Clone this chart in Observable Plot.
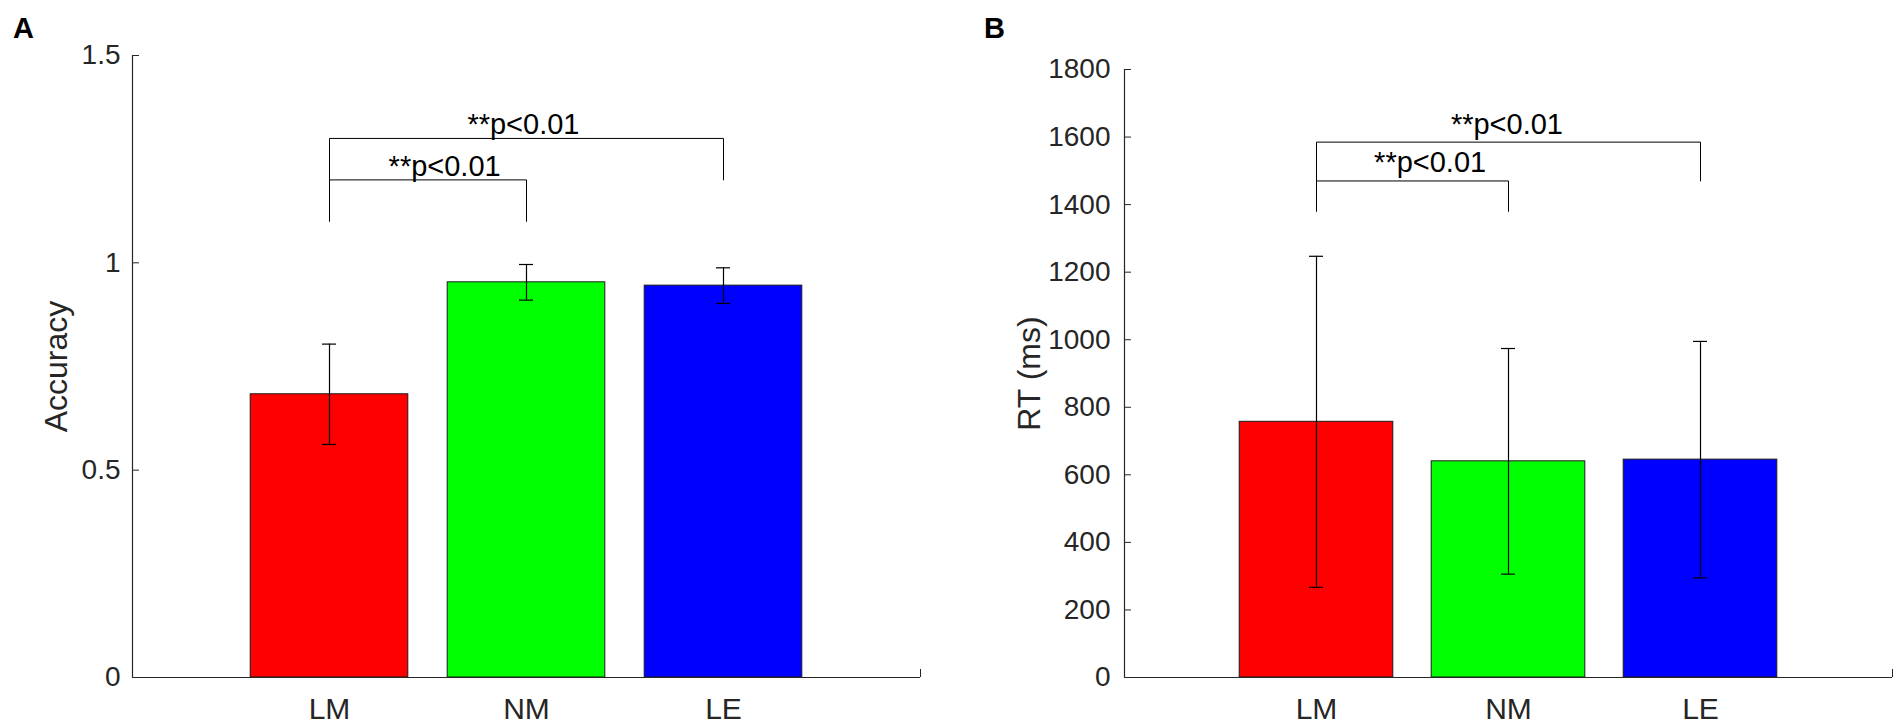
<!DOCTYPE html>
<html>
<head>
<meta charset="utf-8">
<script src="https://cdn.jsdelivr.net/npm/d3@7"></script>
<script src="https://cdn.jsdelivr.net/npm/@observablehq/plot@0.6"></script>
<style>
  html, body { margin: 0; padding: 0; background: #fff; }
  #fig { position: relative; width: 1904px; height: 725px; background: #fff; overflow: hidden; }
  .panel { position: absolute; top: 0; }
  .letter { position: absolute; font-family: "Liberation Sans", Arial, sans-serif; font-weight: bold; font-size: 29px; line-height: 29px; color: #000; }
</style>
</head>
<body>
<div id="fig"></div>
<script>
// ---------- data ----------
const categories = ["LM", "NM", "LE"];
const barColors = ["#ff0000", "#00ff00", "#0000ff"];

const accMean = [0.683, 0.953, 0.945];
const accSD   = [0.121, 0.043, 0.043];
const accTicks = [0, 0.5, 1, 1.5];

const rtMean = [757, 640, 645];
const rtSD   = [490, 334, 350];
const rtTicks = [0, 200, 400, 600, 800, 1000, 1200, 1400, 1600, 1800];

// significance brackets (category positions 1..3)
const bracketFrom = [1, 1];
const bracketTo   = [2, 3];
const pLabels     = ["**p<0.01", "**p<0.01"];
const pLabelX     = [1.3, 1.7];
const accBracketLow  = [1.1, 1.2];
const accBracketHigh = [1.2, 1.3];
const accLabelY      = [1.21, 1.31];
const rtBracketLow   = [1380, 1470];
const rtBracketHigh  = [1470, 1585];
const rtLabelY       = [1496, 1610];

// ---------- drawing ----------
const FONT = "Liberation Sans, Arial, Helvetica, sans-serif";
const AX = "#262626";

function panel({means, sds, yMax, yTicks, bLow, bHigh, bLabelY, yLabel,
                marginLeft, marginRight, marginTop, tickPad, labelDx}) {
  const W = 952, H = 725, marginBottom = 48;
  const bars = categories.map((c, i) => ({
    pos: i + 1, mean: means[i], lo: means[i] - sds[i], hi: means[i] + sds[i], color: barColors[i]
  }));
  const bracketPts = [];
  bracketFrom.forEach((f, k) => {
    const t = bracketTo[k];
    bracketPts.push({k, x: f, y: bLow[k]}, {k, x: f, y: bHigh[k]},
                    {k, x: t, y: bHigh[k]}, {k, x: t, y: bLow[k]});
  });
  const labels = pLabels.map((s, k) => ({text: s, x: pLabelX[k], y: bLabelY[k]}));

  return Plot.plot({
    width: W, height: H,
    marginLeft, marginRight, marginTop, marginBottom,
    style: {fontFamily: FONT, background: "transparent", overflow: "visible", color: AX},
    x: {domain: [0, 4]},
    y: {domain: [0, yMax]},
    color: {type: "identity"},
    marks: [
      // axes
      Plot.axisY({ticks: yTicks, tickSize: 0, tickPadding: tickPad, tickFormat: d => String(d),
                  fontSize: 28, fill: AX, label: null}),
      Plot.axisX({ticks: [1, 2, 3], tickSize: 0, tickPadding: 20, tickFormat: d => categories[d - 1],
                  fontSize: 30, fill: AX, label: null}),
      Plot.ruleY(yTicks, {y: d => d, x1: 0, x2: 0, insetRight: -7, stroke: AX, strokeWidth: 1}),
      Plot.ruleX([4], {x: d => d, y1: 0, y2: 0, insetBottom: 8, stroke: AX, strokeWidth: 1}),
      // bars
      Plot.rect(bars, {x1: d => d.pos - 0.4, x2: d => d.pos + 0.4, y1: 0, y2: "mean",
                       fill: "color", stroke: "#1a1a1a", strokeWidth: 1}),
      Plot.ruleX([0], {stroke: AX, strokeWidth: 1.2}),
      Plot.ruleY([0], {stroke: AX, strokeWidth: 1.2}),
      // error bars
      Plot.ruleX(bars, {x: "pos", y1: "lo", y2: "hi", stroke: "#000", strokeWidth: 1.2}),
      Plot.ruleY(bars, {y: "hi", x1: "pos", x2: "pos", insetLeft: -7, insetRight: -7, stroke: "#000", strokeWidth: 1.2}),
      Plot.ruleY(bars, {y: "lo", x1: "pos", x2: "pos", insetLeft: -7, insetRight: -7, stroke: "#000", strokeWidth: 1.2}),
      // significance brackets
      Plot.line(bracketPts, {x: "x", y: "y", z: "k", stroke: "#000", strokeWidth: 1}),
      Plot.text(labels, {x: "x", y: "y", text: "text", textAnchor: "start", lineAnchor: "bottom",
                         fontSize: 29, fill: "#000"}),
      // y label
      Plot.text([yLabel], {text: d => d, frameAnchor: "left", rotate: -90, textAnchor: "middle",
                           lineAnchor: "bottom", dx: labelDx, fontSize: 32, fill: AX})
    ]
  });
}

const fig = document.getElementById("fig");

const a = panel({means: accMean, sds: accSD, yMax: 1.5, yTicks: accTicks,
                 bLow: accBracketLow, bHigh: accBracketHigh, bLabelY: accLabelY, yLabel: "Accuracy",
                 marginLeft: 132, marginRight: 32, marginTop: 55, tickPad: 12, labelDx: -66});
a.classList.add("panel"); a.style.left = "0px";
fig.appendChild(a);

const b = panel({means: rtMean, sds: rtSD, yMax: 1800, yTicks: rtTicks,
                 bLow: rtBracketLow, bHigh: rtBracketHigh, bLabelY: rtLabelY, yLabel: "RT (ms)",
                 marginLeft: 172, marginRight: 12, marginTop: 69, tickPad: 14, labelDx: -85});
b.classList.add("panel"); b.style.left = "952px";
fig.appendChild(b);

for (const [t, x] of [["A", 13], ["B", 984]]) {
  const d = document.createElement("div");
  d.className = "letter";
  d.textContent = t;
  d.style.left = x + "px";
  d.style.top = "14px";
  fig.appendChild(d);
}
</script>
</body>
</html>
